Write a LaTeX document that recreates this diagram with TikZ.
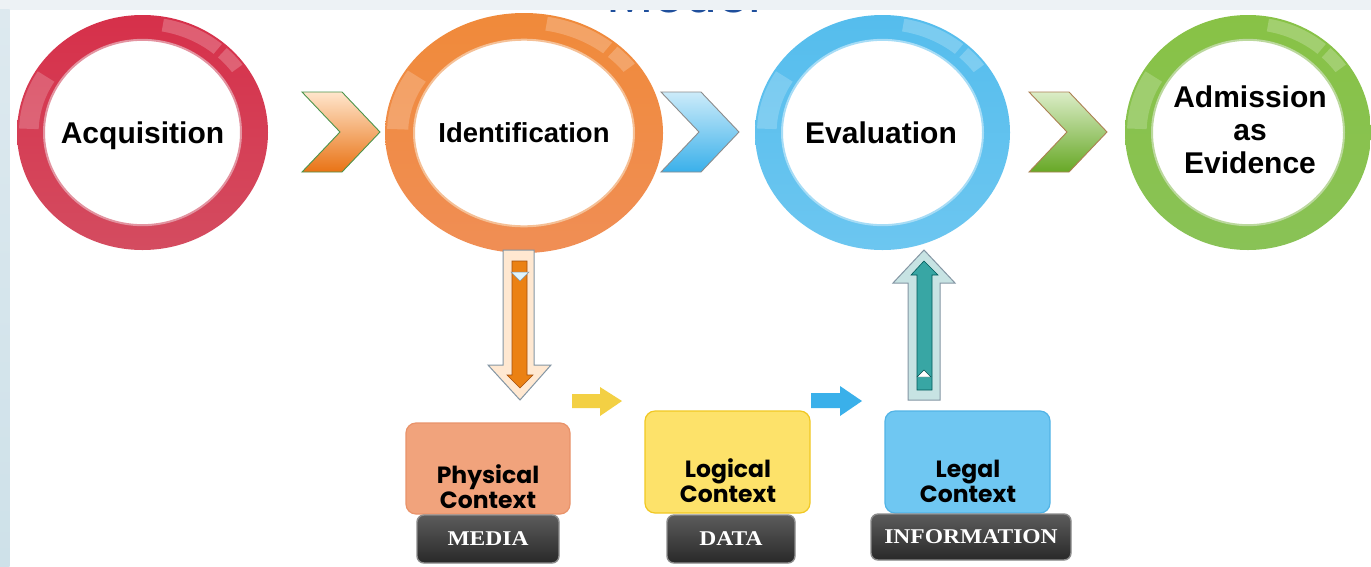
\documentclass[tikz,border=0pt]{standalone}
\usepackage{fontspec}
\setmainfont{Liberation Sans}
\newfontfamily\ctxfont{Poppins}
\newfontfamily\tagfont{Liberation Serif}
\usepackage{graphicx}
\usetikzlibrary{calc}

\definecolor{redT}{HTML}{D6304A}
\definecolor{redM}{HTML}{C20F2B}
\definecolor{redB}{HTML}{D44C60}
\definecolor{orT}{HTML}{F08A3A}
\definecolor{orM}{HTML}{E97315}
\definecolor{orB}{HTML}{F08E55}
\definecolor{blT}{HTML}{55BDED}
\definecolor{blM}{HTML}{3AB0EA}
\definecolor{blB}{HTML}{6CC6F0}
\definecolor{grT}{HTML}{88C246}
\definecolor{grM}{HTML}{67A826}
\definecolor{grB}{HTML}{89C256}
\definecolor{titleblue}{HTML}{1F4F9C}
\definecolor{bandgray}{HTML}{EDF2F5}
\definecolor{stripT}{HTML}{DDE9EF}
\definecolor{stripB}{HTML}{CEE1E9}
\definecolor{physfill}{HTML}{F1A37C}
\definecolor{physline}{HTML}{E9936A}
\definecolor{logfill}{HTML}{FDE26A}
\definecolor{logline}{HTML}{F1C823}
\definecolor{legfill}{HTML}{6FC7F2}
\definecolor{legline}{HTML}{52B4E6}
\definecolor{outline}{HTML}{8496A4}
\definecolor{tealarrow}{HTML}{38A6A4}

% glossy ring: name, cx, cy, rx, ry, thickness, top, middle, bottom colour
\newcommand\glassring[9]{%
  \pgfmathsetmacro\grIX{#4-#6}%
  \pgfmathsetmacro\grIY{#5-#6*0.92}%
  \pgfmathsetmacro\grHX{#4-2}%
  \pgfmathsetmacro\grHY{#5-2}%
  \pgfmathsetmacro\grKX{#4-#6*0.55}%
  \pgfmathsetmacro\grKY{#5-#6*0.55}%
  \pgfmathsetmacro\grLX{#4-#6*0.8}%
  \pgfmathsetmacro\grLY{#5-#6*0.8}%
  \coordinate (#1) at (#2,#3);
  \shade[even odd rule, top color=#7, middle color=#8, bottom color=#9]
    (#1) ellipse [x radius=#4, y radius=#5]
    (#1) ellipse [x radius=\grIX, y radius=\grIY];
  \draw[#8!45!white, line width=2pt] (#1) ellipse [x radius=\grIX, y radius=\grIY];
  % gloss on the upper right
  \fill[white, opacity=.22]
    plot[domain=-80:-50, samples=16] ({#2+\grHX*cos(\x)},{#3+\grHY*sin(\x)})
    -- plot[domain=-50:-80, samples=16] ({#2+\grKX*cos(\x)},{#3+\grKY*sin(\x)}) -- cycle;
  \fill[white, opacity=.22]
    plot[domain=-47:-36, samples=8] ({#2+\grHX*cos(\x)},{#3+\grHY*sin(\x)})
    -- plot[domain=-36:-47, samples=8] ({#2+\grKX*cos(\x)},{#3+\grKY*sin(\x)}) -- cycle;
  % gloss on the left, just above the middle
  \fill[white, opacity=.2]
    plot[domain=-178:-148, samples=16] ({#2+\grHX*cos(\x)},{#3+\grHY*sin(\x)})
    -- plot[domain=-148:-178, samples=16] ({#2+\grLX*cos(\x)},{#3+\grLY*sin(\x)}) -- cycle;
}

% chevron: left x, middle y, top colour, bottom colour, outline colour
\newcommand\chevronat[5]{%
  \shade[top color=#3, bottom color=#4, draw=#5, line width=.9pt, line join=miter]
    (#1,#2-40) -- ++(40,0) -- ++(38,40) -- ++(-38,40) -- ++(-40,0) -- ++(38,-40) -- cycle;
}

\newcommand\tagtext[1]{\scalebox{1.12}[1]{#1}}

\tikzset{
  ringtext/.style={font=\bfseries\fontsize{30}{33}\selectfont, text=black, inner sep=0pt, align=center},
  ctxbox/.style={rounded corners=10pt, line width=1.2pt, inner sep=0pt},
  ctxtext/.style={font=\ctxfont\bfseries\fontsize{23.5}{25}\selectfont, text=black, inner sep=0pt, align=center},
  tagbox/.style={rounded corners=7pt, top color=black!64, bottom color=black!84,
                 draw=black!45, line width=1.4pt, inner sep=0pt, text=white,
                 font=\tagfont\bfseries\fontsize{21}{22}\selectfont},
}

\begin{document}
\begin{tikzpicture}[x=1pt, y=-1pt]
\useasboundingbox (0,0) rectangle (1371,566);
\fill[white] (0,0) rectangle (1371,566);

% heading, mostly hidden under the top band
\node[font=\fontsize{57}{60}\selectfont, text=titleblue, anchor=base, inner sep=0pt] (title) at (684,12.5) {Model};

% process rings
\glassring{acqR}{142.5}{132.5}{125.5}{117.5}{27}{redT}{redM}{redB}
\glassring{idR}{524}{133}{139}{120}{29}{orT}{orM}{orB}
\glassring{evR}{882.5}{132.5}{127.5}{117.5}{27}{blT}{blM}{blB}
\glassring{adR}{1248}{132.5}{123}{117.5}{27}{grT}{grM}{grB}

\node[ringtext, anchor=base] (acq) at (142.5,143) {Acquisition};
\node[ringtext, anchor=base, font=\bfseries\fontsize{27.5}{30}\selectfont] (ident) at (524,142) {Identification};
\node[ringtext, anchor=base] (eval) at (881,143) {Evaluation};
\node[ringtext] (adm) at (1250,130) {Admission\\as\\Evidence};

% chevrons between the rings
\chevronat{302}{132}{orange!20!white}{orM}{black!30!green!40!gray}
\chevronat{661}{132}{blT!30!white}{blM}{black!45}
\chevronat{1029}{132}{grT!30!white}{grM}{brown!70!gray}

% hollow arrow down from identification
\filldraw[fill=orange!18!white, draw=outline, line width=1pt, line join=miter]
  (503,250) -- (534,250) -- (534,365) -- (551,365) -- (520,400) -- (488,365) -- (503,365) -- cycle;
\filldraw[fill=orM!90!yellow, draw=orM!70!black, line width=.6pt, line join=miter]
  (512,261) -- (527,261) -- (527,375) -- (533,375) -- (520,388) -- (507,375) -- (512,375) -- cycle;
\filldraw[fill=cyan!12!white, draw=outline, line width=.5pt]
  (511,272) -- (529,272) -- (520,281) -- cycle;

% hollow arrow up to evaluation
\filldraw[fill=teal!22!white, draw=outline, line width=1pt, line join=miter]
  (924,250) -- (955,283) -- (940,283) -- (940,400) -- (908,400) -- (908,283) -- (893,283) -- cycle;
\filldraw[fill=tealarrow, draw=teal!70!black, line width=.6pt, line join=miter]
  (924,261) -- (938,275) -- (932,275) -- (932,390) -- (917,390) -- (917,275) -- (911,275) -- cycle;
\filldraw[fill=white, draw=teal!60!black, line width=.4pt]
  (917,377) -- (931,377) -- (924,370) -- cycle;

% small arrows between the context boxes
\fill[logline!85!white] (572,394) -- (600,394) -- (600,387) -- (622,401) -- (600,416) -- (600,408) -- (572,408) -- cycle;
\fill[blM] (811,393) -- (840,393) -- (840,386) -- (862,401) -- (840,416) -- (840,408) -- (811,408) -- cycle;

% context boxes
\node[ctxbox, fill=physfill, draw=physline, minimum width=164pt, minimum height=91pt] (phys) at (488,468.5) {};
\node[ctxbox, fill=logfill, draw=logline, minimum width=165pt, minimum height=102pt] (logi) at (727.5,462) {};
\node[ctxbox, fill=legfill, draw=legline, minimum width=165pt, minimum height=102pt] (lega) at (967.5,462) {};

\node[ctxtext] (physT) at (488,487) {Physical\\Context};
\node[ctxtext] (logiT) at (728,481) {Logical\\Context};
\node[ctxtext] (legaT) at (968,481) {Legal\\Context};

% layer tags
\node[tagbox, minimum width=142pt, minimum height=48pt] (media) at (488,539) {\tagtext{MEDIA}};
\node[tagbox, minimum width=128pt, minimum height=48pt] (data) at (731,539) {\tagtext{DATA}};
\node[tagbox, minimum width=200pt, minimum height=46pt] (info) at (971,537) {\tagtext{INFORMATION}};

% frame band and side strip
\fill[bandgray] (0,0) rectangle (1371,9.5);
\shade[top color=stripT, bottom color=stripB] (0,9.5) rectangle (9.5,566);
\end{tikzpicture}
\end{document}
